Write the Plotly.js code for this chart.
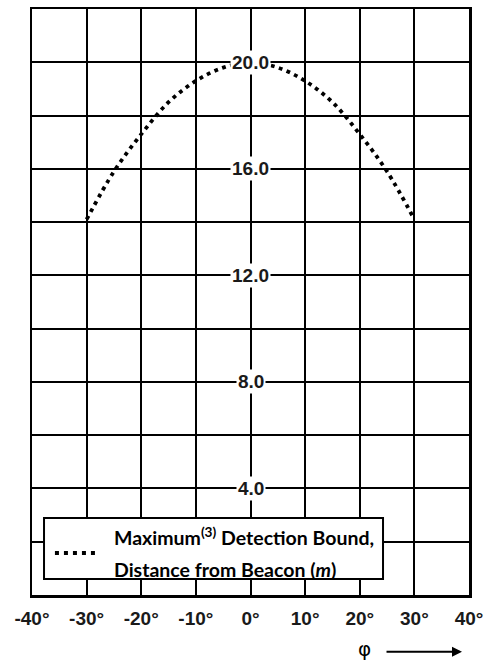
<!DOCTYPE html>
<html>
<head>
<meta charset="utf-8">
<script src="https://cdn.plot.ly/plotly-3.0.1.min.js"></script>
<style>html,body{margin:0;padding:0;background:#fff;}#chart{width:491px;height:664px;}</style>
</head>
<body>
<div id="chart"></div>
<script>
// Data
var phiDeg = [-30, -25, -20, -15, -10, -5, 0, 5, 10, 15, 20, 25, 30];
var distance = [14.1, 15.9, 17.3, 18.5, 19.3, 19.8, 20.0, 19.8, 19.3, 18.5, 17.3, 15.9, 14.1];
var xTickVals = [-40, -30, -20, -10, 0, 10, 20, 30, 40];
var xTickText = ['-40°', '-30°', '-20°', '-10°', '0°', '10°', '20°', '30°', '40°'];
var yLabelVals = [4, 8, 12, 16, 20];
var yLabelText = ['4.0', '8.0', '12.0', '16.0', '20.0'];
var legendLine1 = 'Maximum<sup>(3)</sup> Detection Bound,';
var legendLine2 = 'Distance from Beacon (<i>m</i>)';

var numFont = {family: '"Liberation Sans", Arial, sans-serif', size: 19, color: '#1a1a1a', weight: 700};
var legFont = {family: 'Lato, sans-serif', size: 19.5, color: '#000', weight: 700};

var trace = {
  x: phiDeg,
  y: distance,
  type: 'scatter',
  mode: 'lines',
  line: {color: '#000', width: 3.8, dash: '3.8px,4.5px', shape: 'spline'},
  showlegend: false,
  hoverinfo: 'skip'
};

var annotations = yLabelVals.map(function (v, i) {
  return {
    x: 0, y: v, xref: 'x', yref: 'y',
    text: '<b>' + yLabelText[i] + '</b>', showarrow: false,
    xanchor: 'center', yanchor: 'middle',
    bgcolor: '#fff', borderpad: 1,
    font: numFont
  };
});

// legend text
annotations.push({
  x: -25.4, y: 2.21, xref: 'x', yref: 'y', text: '<b>' + legendLine1 + '</b>', showarrow: false,
  xanchor: 'left', yanchor: 'middle', font: legFont
});
annotations.push({
  x: -25.4, y: 0.94, xref: 'x', yref: 'y', text: '<b>' + legendLine2 + '</b>', showarrow: false,
  xanchor: 'left', yanchor: 'middle', font: legFont
});

// phi label and arrow
annotations.push({
  x: 0.762, y: -0.093, xref: 'paper', yref: 'paper', text: 'φ', showarrow: false,
  xanchor: 'center', yanchor: 'middle',
  font: {family: '"DejaVu Sans", sans-serif', size: 20, color: '#000'}
});
annotations.push({
  x: 0.984, y: -0.097, xref: 'paper', yref: 'paper', text: '', showarrow: true,
  ax: -77, ay: 0, arrowhead: 2, arrowsize: 1, arrowwidth: 2, arrowcolor: '#000'
});

var shapes = [
  {type: 'rect', xref: 'x', yref: 'y', x0: -37.8, x1: 24.26, y0: 0.6, y1: 2.89,
   fillcolor: '#fff', line: {color: '#000', width: 2}, layer: 'above'},
  {type: 'line', xref: 'x', yref: 'y', x0: -35.8, x1: -27.6, y0: 1.58, y1: 1.58,
   line: {color: '#000', width: 4, dash: '4px,5px'}, layer: 'above'}
];

var layout = {
  width: 491, height: 664,
  margin: {l: 32, r: 22, t: 9, b: 69, pad: 0},
  paper_bgcolor: '#fff', plot_bgcolor: '#fff',
  showlegend: false,
  xaxis: {
    range: [-40, 40], tickvals: xTickVals,
    ticktext: xTickText.map(function (t) { return '<b>' + t + '</b>'; }),
    showgrid: true, gridcolor: '#000', gridwidth: 2,
    zeroline: false, showline: true, linecolor: '#000', linewidth: 2.5, mirror: true,
    ticks: '', ticklabelstandoff: 5,
    tickfont: numFont,
    fixedrange: true
  },
  yaxis: {
    range: [0, 22], dtick: 2, tick0: 0,
    showgrid: true, gridcolor: '#000', gridwidth: 2,
    zeroline: false, showline: true, linecolor: '#000', linewidth: 2.5, mirror: true,
    showticklabels: false, ticks: '', fixedrange: true
  },
  annotations: annotations,
  shapes: shapes
};

Plotly.newPlot('chart', [trace], layout, {staticPlot: true, displayModeBar: false});
</script>
</body>
</html>
